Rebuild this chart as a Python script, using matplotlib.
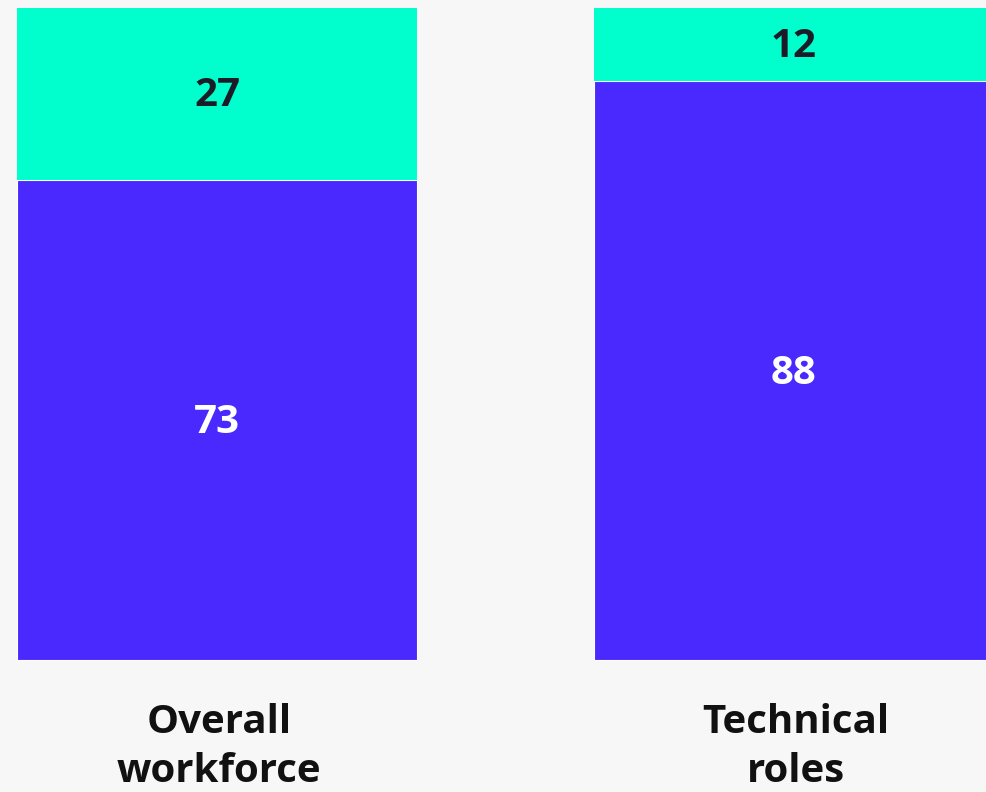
import matplotlib.pyplot as plt
import numpy as np

groups = ['Overall\nworkforce', 'Technical\nroles']
bottom_vals = [73, 88]
top_vals = [27, 12]

bg = '#f7f7f7'
purple = '#4a29ff'
teal = '#00ffcc'
font = ['Open Sans', 'Roboto', 'DejaVu Sans']

fig = plt.figure(figsize=(9.86, 7.92), dpi=100, facecolor=bg)
# axes top sits at 8 px below the figure edge, bars are clipped there
ax = fig.add_axes([0, 0, 1, 784 / 792])
ax.set_facecolor(bg)

x = np.arange(len(groups))
width = 400 / 577
scale = 6.58  # px per unit

ax.bar(x, bottom_vals, width, color=purple, edgecolor='white', linewidth=0.8)
ax.bar(x, top_vals, width, bottom=bottom_vals, color=teal, linewidth=0)

nudge = 3 / scale
for xi, b, t, g in zip(x, bottom_vals, top_vals, groups):
    ax.text(xi, b / 2 - nudge, str(b), ha='center', va='center', color='white',
            fontsize=29, fontweight='bold', family=font)
    ax.text(xi, b + t / 2 - 0.3 - nudge, str(t), ha='center', va='center',
            color='#1c1c28', fontsize=29, fontweight='bold', family=font)
    ax.text(xi + 0.004, -87 / scale, g, ha='center', va='center', color='#111111',
            fontsize=29, fontweight='bold', family=font, linespacing=1.36)

ax.set_xlim(-217 / 577, 769 / 577)
ax.set_ylim(-132 / scale, 652 / scale)
ax.axis('off')

plt.savefig('out.png', dpi=100, facecolor=bg)
plt.close()
